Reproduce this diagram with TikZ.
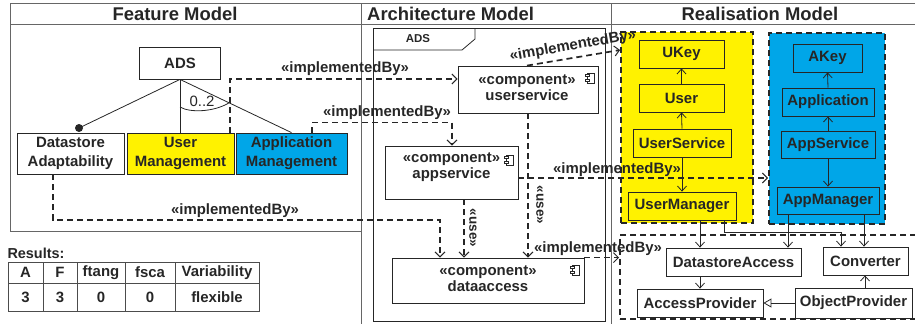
\documentclass[tikz,border=0pt]{standalone}
\usepackage{fontspec}
\setmainfont{Liberation Sans}
\usetikzlibrary{arrows.meta,calc}

\definecolor{umlyellow}{RGB}{255,242,0}
\definecolor{umlblue}{RGB}{0,166,232}
\definecolor{ink}{RGB}{38,38,38}

\newcommand{\fsz}[1]{\fontsize{#1}{#1}\selectfont}

\tikzset{
  every node/.style={inner sep=0pt, text=ink, font=\bfseries\fontsize{15}{17}\selectfont},
  panel/.style={draw=black!60, line width=1bp},
  box/.style={draw=ink, line width=0.8bp, align=center},
  fbox/.style={box, font=\bfseries\fontsize{15}{19}\selectfont},
  ctext/.style={align=center, font=\bfseries\fontsize{15}{16}\selectfont},
  cell/.style={draw=black!70, line width=0.9bp},
  group/.style={draw=ink, line width=1.8bp, dash pattern=on 6bp off 4bp},
  dep/.style={draw=ink, line width=1.7bp, dash pattern=on 6bp off 4bp,
    -{Straight Barb[length=5bp,width=10bp,line width=1bp]}},
  assoc/.style={draw=ink, line width=0.8bp,
    -{Straight Barb[length=5bp,width=9bp,line width=0.8bp]}},
  gen/.style={draw=ink, line width=0.8bp,
    -{Triangle[open,length=8bp,width=9bp,line width=0.8bp]}},
  title/.style={font=\bfseries\fsz{18.5}},
  uselbl/.style={font=\bfseries\fsz{13.5}, rotate=-90},
  compicon/.pic={
    \draw[ink, line width=0.6bp] (-2.5,-5) rectangle (4,5);
    \draw[ink, line width=0.6bp, fill=white] (-4.5,-3.5) rectangle (-0.5,-1.5);
    \draw[ink, line width=0.6bp, fill=white] (-4.5,1.5) rectangle (-0.5,3.5);
  },
}

\begin{document}
\begin{tikzpicture}[x=1bp, y=-1bp]
\useasboundingbox (0,0) rectangle (915,324);

% ---------- panel frames ----------
\draw[panel] (10,231) -- (10,3) -- (915,3);
\draw[panel] (10,24) -- (915,24);
\draw[panel] (10,231) -- (361,231);
\draw[panel] (361,3) -- (361,324);
\draw[panel] (611,3) -- (611,324);

\node[title] (hfeat) at (175,14) {Feature Model};
\node[title, anchor=west] (harch) at (367,14) {Architecture Model};
\node[title] (hreal) at (760,14) {Realisation Model};

% ---------- feature model ----------
\node[fbox, minimum width=81bp, minimum height=32bp] (ads) at (180,63) {ADS};
\node[fbox, minimum width=107bp, minimum height=41bp] (ds) at (70.5,153.5) {Datastore\\Adaptability};
\node[fbox, fill=umlyellow, minimum width=107bp, minimum height=41bp] (um) at (180.5,153.5) {User\\Management};
\node[fbox, fill=umlblue, minimum width=111bp, minimum height=41bp] (am) at (291.5,153.5) {Application\\Management};

\coordinate (mand) at (79,128);
\draw[ink, line width=0.8bp] (ads.south) -- (mand);
\fill[ink] (mand) circle (4bp);
\draw[ink, line width=0.8bp] (ads.south) -- (ads.south |- um.north);
\draw[ink, line width=0.8bp] (ads.south) -- (am.north);
\draw[ink, line width=0.8bp] (180,107) .. controls (190,113) and (214,112) .. ($(ads.south)!0.44!(am.north)$);
\node[font=\fsz{15}] (card) at (202,101) {0..2};

% ---------- architecture model ----------
\draw[ink, line width=0.8bp] (373,28) rectangle (605,321);
\draw[ink, line width=0.8bp] (373,50) -- (462,50) -- (475,39) -- (475,28);
\node[font=\bfseries\fsz{11.5}] (frame) at (418,39) {ADS};

\node[box, minimum width=140bp, minimum height=47bp] (us) at (528,89.5) {};
\node[ctext] (ustext) at (527,88) {«component»\\userservice};
\node[box, minimum width=133bp, minimum height=53bp] (as) at (451.5,172.5) {};
\node[ctext] (astext) at (451.5,167.5) {«component»\\appservice};
\node[box, minimum width=192bp, minimum height=45bp] (da) at (488,280.5) {};
\node[ctext] (datext) at (488,279) {«component»\\dataaccess};
\pic at (590,78) {compicon};
\pic at (509,160) {compicon};
\pic at (575,270) {compicon};

\draw[dep] (as.south -| 464,0) -- (da.north -| 464,0);
\node[uselbl] (use1) at (473,228) {«use»};
\draw[dep] (us.south) -- (us.south |- da.north);
\node[uselbl] (use2) at (540,205) {«use»};

% ---------- realisation model ----------
\node[group, fill=umlyellow, minimum width=132bp, minimum height=191bp] (ug) at (687,127.5) {};
\node[group, fill=umlblue, minimum width=116bp, minimum height=191bp] (ag) at (827,128.5) {};
\node[group, minimum width=296bp, minimum height=84bp] (bg) at (768,277) {};

\node[box, minimum width=85bp, minimum height=28bp] (ukey) at (681.5,54) {UKey};
\node[box, minimum width=85bp, minimum height=28bp] (user) at (681.5,98) {User};
\node[box, minimum width=98bp, minimum height=28bp] (usvc) at (682,143) {UserService};
\node[box, minimum width=108bp, minimum height=28bp] (umgr) at (682,206) {UserManager};

\node[box, minimum width=69bp, minimum height=28bp] (akey) at (827.5,58) {AKey};
\node[box, minimum width=92bp, minimum height=28bp] (appl) at (828,102) {Application};
\node[box, minimum width=94bp, minimum height=27bp] (asvc) at (828,144.5) {AppService};
\node[box, minimum width=102bp, minimum height=27bp] (amgr) at (828,200.5) {AppManager};

\node[box, minimum width=135bp, minimum height=28bp] (dsa) at (733.5,262) {DatastoreAccess};
\node[box, minimum width=85bp, minimum height=28bp] (conv) at (865.5,261) {Converter};
\node[box, minimum width=126bp, minimum height=28bp] (ap) at (700,303) {AccessProvider};
\node[box, minimum width=117bp, minimum height=30bp] (op) at (853.5,303) {ObjectProvider};

\draw[assoc] (user.north) -- (ukey.south);
\draw[assoc] (usvc.north) -- (user.south);
\draw[assoc] (usvc.south) -- (umgr.north);
\draw[assoc] (appl.north) -- (akey.south);
\draw[assoc] (asvc.north) -- (appl.south);
\draw[assoc] (asvc.south) -- (amgr.north);

\draw[assoc] (umgr.south -| 700,0) -- (dsa.north -| 700,0);
\draw[assoc] (umgr.south -| 724,0) -- (724,232) -| (conv.north -| 841,0);
\draw[assoc] (amgr.south -| 788,0) -- (dsa.north -| 788,0);
\draw[assoc] (amgr.south -| 864,0) -- (conv.north -| 864,0);
\draw[assoc] (dsa.south -| 700,0) -- (ap.north -| 700,0);
\draw[assoc] (op.north -| 865,0) -- (conv.south -| 865,0);
\draw[gen] (op.west) -- (ap.east);

% ---------- implementedBy dependencies ----------
\draw[dep] (um.north -| 230,0) |- (us.west |- 0,79);
\node (ib1) at (345,69) {«implementedBy»};
\draw[dep] (am.north -| 312,0) -- ++(0,-10) -| (as.north -| 452,0);
\node (ib2) at (387,113) {«implementedBy»};
\draw[dep] (ds.south -| 53,0) -- (53,220) -| (da.north -| 440,0);
\node (ib3) at (235,211) {«implementedBy»};

\draw[dep] (us.north -| 527,0) -- (ug.west |- 0,50);
\node[rotate=10] (ib4) at (573,46) {«implementedBy»};
\draw[dep] (as.east |- 0,178) -- (ag.west |- 0,178);
\node (ib5) at (617,170) {«implementedBy»};
\draw[dep] (da.north east) -- (bg.west |- da.north east);
\node (ib6) at (598,249) {«implementedBy»};

% ---------- results table ----------
\node[font=\bfseries\fsz{14.5}] (res) at (36,253) {Results:};
\node[cell, minimum width=35bp, minimum height=21bp] (tA) at (25.5,272.5) {A};
\node[cell, minimum width=34bp, minimum height=21bp] (tF) at (60,272.5) {F};
\node[cell, minimum width=48bp, minimum height=21bp] (tft) at (101,272.5) {ftang};
\node[cell, minimum width=50bp, minimum height=21bp] (tfs) at (150,272.5) {fsca};
\node[cell, minimum width=84bp, minimum height=21bp] (tV) at (217,272.5) {Variability};
\node[cell, minimum width=35bp, minimum height=28bp] (vA) at (25.5,297) {3};
\node[cell, minimum width=34bp, minimum height=28bp] (vF) at (60,297) {3};
\node[cell, minimum width=48bp, minimum height=28bp] (vft) at (101,297) {0};
\node[cell, minimum width=50bp, minimum height=28bp] (vfs) at (150,297) {0};
\node[cell, minimum width=84bp, minimum height=28bp] (vV) at (217,297) {flexible};
\end{tikzpicture}
\end{document}
